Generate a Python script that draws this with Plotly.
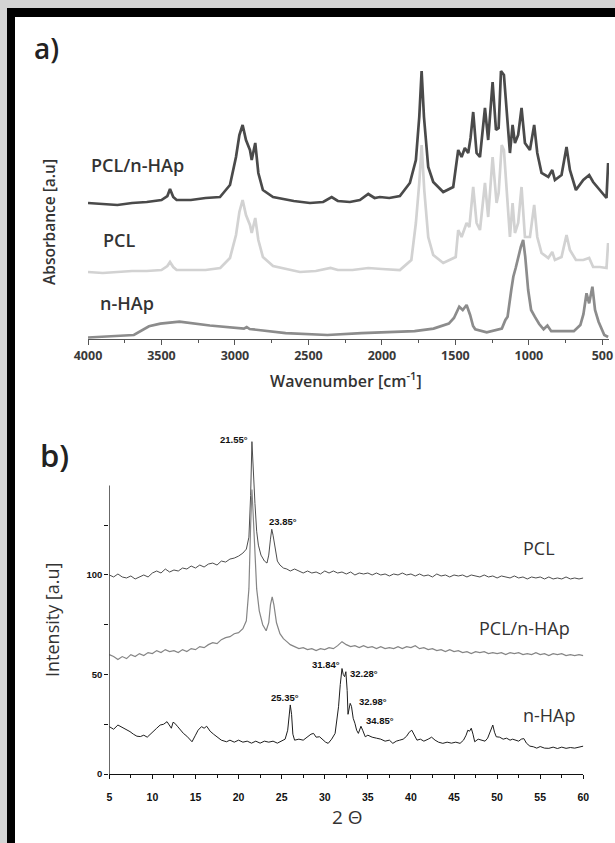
import plotly.graph_objects as go

W, H = 615, 843

# ---------------- FTIR data (wavenumber cm-1, offset absorbance a.u.) ----------------
ftir_comp = [(4000,136),(3900,135),(3800,134),(3700,136),(3600,137),(3500,139),(3460,143),(3442,150),
             (3420,142),(3397,139),(3300,139),(3200,141),(3102,142),(3034,154),(2993,182),(2970,204),
             (2948,214),(2925,199),(2898,189),(2886,179),(2862,196),(2841,166),(2810,149),(2741,142),
             (2600,138),(2490,136),(2400,137),(2342,142),(2300,138),(2218,137),(2150,139),(2093,145),
             (2050,141),(2014,142),(1950,141),(1878,143),(1810,156),(1769,179),(1746,222),(1730,268),
             (1714,222),(1685,172),(1651,157),(1583,147),(1515,152),(1481,189),(1458,182),(1436,191),
             (1413,186),(1397,201),(1379,227),(1356,186),(1333,182),(1299,231),(1277,199),(1247,257),
             (1224,209),(1206,211),(1190,268),(1170,264),(1152,229),(1129,186),(1111,214),(1095,196),
             (1073,204),(1050,231),(1027,196),(993,189),(964,214),(943,186),(914,166),(868,162),
             (841,169),(823,159),(778,164),(744,192),(721,169),(680,149),(630,159),(590,164),
             (563,157),(517,149),(483,142),(472,141),(461,176)]

ftir_pcl = [(4000,67),(3900,66),(3800,67),(3700,68),(3600,68),(3500,69),(3460,73),(3442,77),(3420,72),
            (3397,69),(3300,69),(3200,69),(3100,71),(3034,81),(2993,104),(2970,127),(2948,139),(2925,124),
            (2898,114),(2886,106),(2862,121),(2841,99),(2810,82),(2741,73),(2558,67),(2450,68),(2350,71),
            (2300,69),(2200,69),(2093,71),(2000,70),(1878,69),(1800,79),(1769,116),(1746,156),(1730,194),
            (1712,149),(1685,102),(1651,84),(1583,76),(1498,82),(1481,109),(1458,102),(1424,116),(1405,112),
            (1379,152),(1356,116),(1333,109),(1299,156),(1277,122),(1247,182),(1220,136),(1206,146),
            (1185,194),(1170,189),(1150,149),(1129,102),(1111,136),(1095,106),(1073,116),(1050,152),
            (1027,102),(993,102),(964,134),(943,102),(914,86),(868,81),(841,87),(823,79),(778,82),
            (744,104),(721,89),(680,79),(630,79),(590,81),(563,72),(517,72),(472,71),(461,96)]

ftir_hap = [(4000,1.5),(3800,3),(3688,4),(3585,12.7),(3508,15.4),(3378,17.3),(3171,13.5),(2939,10.4),
            (2920,12),(2900,10),(2655,5.9),(2371,4),(2139,5.9),(1778,7.8),(1649,10.4),(1545,15.4),
            (1510,21),(1474,32.3),(1450,29),(1424,34),(1400,24),(1380,13),(1365,9.7),(1287,6.6),
            (1184,10.4),(1160,19),(1145,22.3),(1120,49),(1106,62.3),(1090,71),(1073,82),(1055,92),
            (1039,99),(1025,82.3),(1005,49),(985,29),(960,22.3),(930,15),(900,9.7),(874,13.5),
            (848,7.8),(694,7.8),(650,14),(629,24.8),(608,45.7),(590,35.7),(568,52.3),(550,29),
            (526,17.3),(487,4),(461,2)]

ftir_tickvals = [4000, 3500, 3000, 2500, 2000, 1500, 1000, 500]
ftir_minor_tickvals = [3750, 3250, 2750, 2250, 1750, 1250, 750]

# ---------------- XRD data (2 theta deg, intensity a.u.) ----------------
xrd_pcl = [(5.0,100),(5.5,99),(6.0,100.5),(6.5,99),(7.0,98.5),(7.5,99.5),(8.0,98),(8.5,99),(9.0,100),
           (9.5,99),(10.0,101),(10.5,102),(11.0,101),(11.5,103),(12.0,101.5),(12.5,102.5),(13.0,102),
           (13.5,103.5),(14.0,103),(14.5,104.5),(15.0,103.5),(15.5,105),(16.0,104),(16.5,105.5),(17.0,106),
           (17.5,105),(18.0,107),(18.5,106.5),(19.0,108),(19.5,108.5),(20.0,109.5),(20.5,111),(20.9,113),
           (21.2,119),(21.4,140),(21.55,167),(21.7,150),(21.9,136),(22.1,122),(22.3,115),(22.6,110),
           (23.0,107),(23.3,106),(23.5,110),(23.7,118),(23.85,123),(24.0,120),(24.2,114),(24.5,107),
           (24.8,105),(25.2,103.5),(25.6,103),(26.0,102),(26.5,103),(27.0,102),(27.5,101),(28.0,102),
           (28.5,101),(29.0,101.5),(29.5,100.5),(30.0,102),(30.5,101),(31.0,102),(31.5,101),(32.0,101.5),
           (32.5,100.5),(33.0,101.5),(33.5,100),(34.0,101),(34.5,100.5),(35.0,101),(35.5,100),(36.0,101),
           (36.5,100),(37.0,100.5),(37.5,99.5),(38.0,100.5),(38.5,100),(39.0,101),(39.5,100),(40.0,100.5),
           (40.5,99.5),(41.0,100.5),(41.5,99.5),(42.0,100),(42.5,99),(43.0,100.5),(43.5,99.5),(44.0,100),
           (44.5,99),(45.0,100),(45.5,99.5),(46.0,100),(46.5,99),(47.0,100),(47.5,99.5),(48.0,99),
           (48.5,100),(49.0,99),(49.5,99.5),(50.0,98.5),(50.5,99.5),(51.0,99),(51.5,98.5),(52.0,99.5),
           (52.5,98.5),(53.0,99),(53.5,98),(54.0,99),(54.5,98.5),(55.0,99),(55.5,98),(56.0,99),
           (56.5,98),(57.0,98.5),(57.5,98),(58.0,99),(58.5,98),(59.0,98.5),(59.5,98),(60.0,98.5)]

xrd_comp = [(5.0,60),(5.5,59),(6.0,57.5),(6.5,59),(7.0,58),(7.5,60),(8.0,59),(8.5,60.5),(9.0,59.5),
            (9.5,61),(10.0,60.5),(10.5,62),(11.0,61),(11.5,62.5),(12.0,61.5),(12.5,62),(13.0,61),
            (13.5,62.5),(14.0,61.5),(14.5,63),(15.0,62.5),(15.5,64),(16.0,63.5),(16.5,65),(17.0,66),
            (17.5,65.5),(18.0,67.5),(18.5,68.5),(19.0,69),(19.5,70.5),(20.0,71),(20.5,73),(20.9,77),
            (21.2,93),(21.4,125),(21.55,143),(21.7,130),(21.9,110),(22.1,93),(22.4,82),(22.8,75),
            (23.2,72),(23.5,76),(23.7,85),(23.9,89),(24.1,85),(24.4,76),(24.8,70.5),(25.2,68),
            (25.6,66.5),(26.0,65),(26.5,64),(27.0,63),(27.5,63.5),(28.0,62.5),(28.5,63),(29.0,62),
            (29.5,63),(30.0,62.5),(30.5,63.5),(31.0,63),(31.5,64.5),(32.0,66.5),(32.5,65),(33.0,64),
            (33.5,64.5),(34.0,63.5),(34.5,64.5),(35.0,63.5),(35.5,64),(36.0,63),(36.5,64),(37.0,63),
            (37.5,63.5),(38.0,63),(38.5,64),(39.0,63),(39.5,64),(40.0,63.5),(40.5,64.5),(41.0,63),
            (41.5,63.5),(42.0,62.5),(42.5,63),(43.0,62),(43.5,62.5),(44.0,61.5),(44.5,62.5),(45.0,61.5),
            (45.5,62),(46.0,61),(46.5,61.5),(47.0,60.5),(47.5,61.5),(48.0,61),(48.5,61.5),(49.0,60.5),
            (49.5,61),(50.0,60.5),(50.5,61),(51.0,60),(51.5,61),(52.0,60.5),(52.5,61),(53.0,60),
            (53.5,60.5),(54.0,60),(54.5,61),(55.0,60),(55.5,60.5),(56.0,59.5),(56.5,60.5),(57.0,60),
            (57.5,60.5),(58.0,59.5),(58.5,60),(59.0,59.5),(59.5,60),(60.0,59.5)]

xrd_hap = [(5.0,23.8),(5.5,22.5),(6.0,24.6),(6.5,23.5),(7.0,22),(7.4,21.3),(7.8,20),(8.2,19),(8.6,18.8),
           (9.0,19.5),(9.4,18.5),(9.7,19.6),(10.1,21.5),(10.5,23),(10.9,24.6),(11.3,25),(11.7,26.3),
           (12.0,24),(12.2,23),(12.4,26),(12.6,25.5),(12.9,24),(13.2,22.5),(13.6,20.4),(14.0,19),
           (14.3,17.5),(14.6,16.2),(15.0,19.5),(15.3,22),(15.7,23.8),(16.0,23),(16.3,24),(16.7,21.5),
           (17.1,20),(17.5,18.7),(18.0,17),(18.6,16.2),(19.0,17),(19.5,16),(20.0,17),(20.5,16),
           (21.0,16.5),(21.5,15.5),(22.0,16.5),(22.5,15.5),(23.0,16.5),(23.5,16),(24.0,16.5),(24.5,15.5),
           (25.0,16.5),(25.4,17.5),(25.7,22),(25.9,30),(26.0,34.7),(26.15,30),(26.3,20),(26.5,17),
           (27.0,17.5),(27.5,17),(28.0,18.5),(28.4,20),(28.7,20.4),(29.0,18.5),(29.4,18.7),(29.8,17),
           (30.1,16),(30.4,15.4),(30.8,17.5),(31.2,20.4),(31.4,26),(31.6,33.8),(31.8,45),(32.0,53),
           (32.15,50),(32.3,48.9),(32.45,51.4),(32.6,42),(32.7,30),(32.8,33),(32.95,35.5),(33.1,34),
           (33.3,28),(33.5,25.5),(33.7,22),(33.9,20.4),(34.05,22),(34.2,24),(34.4,22),(34.7,18.7),
           (35.0,19.5),(35.5,18.5),(36.0,18),(36.5,17.5),(37.0,16.5),(37.5,17),(37.9,15.4),(38.3,16.5),
           (38.7,17),(39.1,17.5),(39.5,19),(39.8,21),(40.1,22),(40.4,19.5),(40.7,17),(41.1,17.5),
           (41.5,16.5),(42.0,17.5),(42.4,18.5),(42.8,17),(43.2,16),(43.7,15.4),(44.2,16),(44.7,15.5),
           (45.2,16),(45.7,15.4),(46.1,17),(46.4,19.5),(46.6,22),(46.8,21.5),(47.0,23),(47.2,20),
           (47.4,16.2),(47.8,17.5),(48.2,17),(48.6,16.5),(48.9,18),(49.2,21),(49.5,24.6),(49.7,21),
           (49.9,18.7),(50.3,18.5),(50.7,17.5),(51.1,18),(51.5,17),(51.8,17.5),(52.1,17),(52.5,16.5),
           (52.8,17.5),(53.1,17.8),(53.4,15.5),(53.8,14),(54.2,13.7),(54.6,13),(55.0,13.8),(55.5,13),
           (56.0,12.9),(56.5,13.5),(57.0,12.8),(57.5,13.5),(58.0,12.9),(58.5,13.3),(59.0,13),(59.5,13.5),
           (60.0,14)]

xrd_x_tickvals = [5, 10, 15, 20, 25, 30, 35, 40, 45, 50, 55, 60]
xrd_x_minor = [7.5, 12.5, 17.5, 22.5, 27.5, 32.5, 37.5, 42.5, 47.5, 52.5, 57.5]
xrd_y_tickvals = [0, 50, 100]
xrd_y_minor = [25, 75, 125]

# peak labels: (text, 2theta position, intensity position, xanchor)
xrd_peak_labels = [("21.55°", 21.3, 168, "right"), ("23.85°", 25.2, 127, "center"),
                   ("25.35°", 25.4, 38.5, "center"), ("31.84°", 30.2, 55, "center"),
                   ("32.28°", 34.5, 50.6, "center"), ("32.98°", 35.6, 36.3, "center"),
                   ("34.85°", 36.4, 27.1, "center")]
ftir_series_labels = [("PCL/n-HAp", 3663, 174), ("PCL", 3789, 99), ("n-HAp", 3735, 36)]
xrd_series_labels = [("PCL", 54.9, 113.4), ("PCL/n-HAp", 53.2, 73.4), ("n-HAp", 56.1, 29.6)]


def unzip(pairs):
    return [p[0] for p in pairs], [p[1] for p in pairs]


def px(x):
    return x / W


def py(y):
    return 1 - y / H


fig = go.Figure()

for data, color in [(ftir_hap, "#8c8c8c"), (ftir_pcl, "#d2d2d2"), (ftir_comp, "#4a4a4a")]:
    xs, ys = unzip(data)
    fig.add_trace(go.Scatter(x=xs, y=ys, mode="lines", xaxis="x", yaxis="y",
                             line=dict(color=color, width=2.7), showlegend=False, hoverinfo="skip"))

for data, color, wd in [(xrd_pcl, "#4d4d4d", 1.0), (xrd_comp, "#858585", 1.2), (xrd_hap, "#1e1e1e", 1.0)]:
    xs, ys = unzip(data)
    fig.add_trace(go.Scatter(x=xs, y=ys, mode="lines", xaxis="x2", yaxis="y2",
                             line=dict(color=color, width=wd), showlegend=False, hoverinfo="skip"))

ann = []
for t, xw, yv in ftir_series_labels:
    ann.append(dict(text=t, x=xw, y=yv, xref="x", yref="y", showarrow=False, xanchor="center",
                    yanchor="middle", font=dict(family="Open Sans", size=18, color="#333333", weight=600)))
for t, xw, yv in xrd_series_labels:
    ann.append(dict(text=t, x=xw, y=yv, xref="x2", yref="y2", showarrow=False, xanchor="center",
                    yanchor="middle", font=dict(family="Open Sans", size=18, color="#333333")))
for t, xw, yv, xa in xrd_peak_labels:
    ann.append(dict(text=t, x=xw, y=yv, xref="x2", yref="y2", showarrow=False, xanchor=xa,
                    yanchor="middle", font=dict(family="Liberation Sans", size=9.5, color="#111111",
                                                weight="bold")))


def paper_text(text, x, y, size, weight=400, color="#333333", angle=0):
    return dict(text=text, x=px(x), y=py(y), xref="paper", yref="paper", showarrow=False,
                xanchor="center", yanchor="middle", textangle=angle,
                font=dict(family="Open Sans", size=size, color=color, weight=weight))


ann += [
    paper_text("a)", 47, 48, 28, 600, "#222222"),
    paper_text("b)", 54, 455, 31, 600, "#222222"),
    paper_text("Wavenumber [cm<sup>-1</sup>]", 346, 380, 16, 600),
    paper_text("Absorbance [a.u]", 49, 222, 15.5, 600, angle=-90),
    paper_text("Intensity [a.u]", 52, 620, 18, 400, angle=-90),
    paper_text("2 Θ", 347, 817, 19, 400),
]

shapes = [
    dict(type="rect", xref="paper", yref="paper", x0=0, x1=1, y0=py(8), y1=1,
         fillcolor="#d4d4d4", line=dict(width=0), layer="above"),
    dict(type="rect", xref="paper", yref="paper", x0=0, x1=px(7), y0=0, y1=1,
         fillcolor="#d4d4d4", line=dict(width=0), layer="above"),
    dict(type="rect", xref="paper", yref="paper", x0=px(7), x1=1, y0=py(17), y1=py(8),
         fillcolor="#000000", line=dict(width=0), layer="above"),
    dict(type="rect", xref="paper", yref="paper", x0=px(7), x1=px(15), y0=0, y1=py(8),
         fillcolor="#000000", line=dict(width=0), layer="above"),
    # XRD y-axis line (shorter than plotting area)
    dict(type="line", xref="x2", yref="y2", x0=5, x1=5, y0=0, y1=145,
         line=dict(color="#111111", width=1.2)),
]

fig.update_layout(
    template="none",
    width=W, height=H, margin=dict(l=0, r=0, t=0, b=0, pad=0, autoexpand=False),
    paper_bgcolor="white", plot_bgcolor="rgba(0,0,0,0)",
    showlegend=False, annotations=ann, shapes=shapes,
    xaxis=dict(domain=[px(88), px(609)], range=[4000, 455], anchor="y", automargin=False,
               showline=True, linecolor="#555555", linewidth=1.3, showgrid=False, zeroline=False,
               ticks="outside", ticklen=5, tickwidth=1.2, tickcolor="#555555",
               tickvals=ftir_tickvals, ticktext=[str(v) for v in ftir_tickvals],
               minor=dict(tickvals=ftir_minor_tickvals, ticks="outside",
                          ticklen=3, tickcolor="#555555", tickwidth=1.2, showgrid=False),
               tickfont=dict(family="Open Sans", size=12.5, color="#3a3a3a", weight=700)),
    yaxis=dict(domain=[py(339), py(59)], range=[0, 280], visible=False, anchor="x", automargin=False),
    xaxis2=dict(domain=[px(109.3), px(583.3)], range=[5, 60], anchor="y2", automargin=False,
                showline=True, linecolor="#111111", linewidth=1.2, showgrid=False, zeroline=False,
                ticks="outside", ticklen=4, tickwidth=1.2, tickcolor="#111111",
                tickvals=xrd_x_tickvals, ticklabelstandoff=9,
                minor=dict(tickvals=xrd_x_minor,
                           ticks="outside", ticklen=3, tickcolor="#111111", tickwidth=1.2, showgrid=False),
                tickfont=dict(family="Liberation Sans", size=10.5, color="#111111", weight="bold")),
    yaxis2=dict(domain=[py(774), py(431.7)], range=[0, 172], anchor="x2", automargin=False,
                showline=False, showgrid=False, zeroline=False,
                ticks="outside", ticklen=4, tickwidth=1.2, tickcolor="#111111",
                tickvals=xrd_y_tickvals,
                minor=dict(tickvals=xrd_y_minor, ticks="outside", ticklen=4, tickcolor="#111111",
                           tickwidth=1.2, showgrid=False),
                tickfont=dict(family="Liberation Sans", size=9.5, color="#111111", weight="bold")),
)

fig.write_html("out.html")
